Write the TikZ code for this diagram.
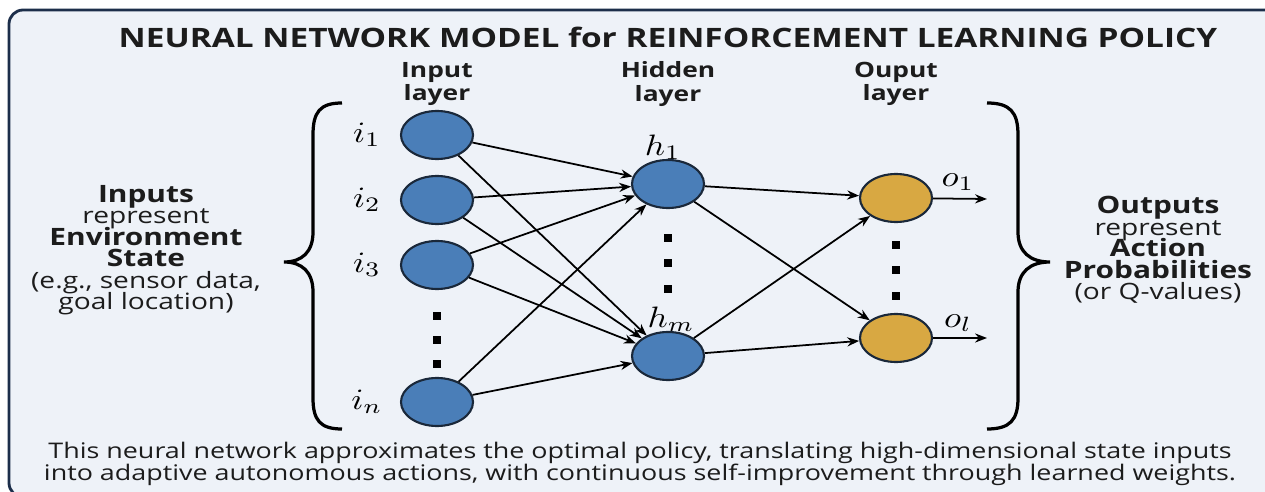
\documentclass[tikz,border=0pt]{standalone}
\usepackage{graphicx}
\usepackage{fontspec}
\setmainfont{Open Sans}
\newfontfamily\widesans[FakeStretch=1.25]{Open Sans}
\usetikzlibrary{shapes.geometric,arrows.meta}
\definecolor{frameblue}{RGB}{28,46,74}
\definecolor{paper}{RGB}{238,242,248}
\definecolor{neuronblue}{RGB}{74,126,184}
\definecolor{neurongold}{RGB}{216,168,66}
\definecolor{rimdark}{RGB}{26,40,58}
\definecolor{inkgray}{RGB}{28,28,28}
\newcommand{\wlab}[1]{\scalebox{2.5}[2.1]{$#1$}}
\newcommand{\bw}[1]{{\bfseries\fontsize{17}{15.3}\selectfont #1}}
\newcommand{\sidefont}{\widesans\fontsize{16}{15.3}\selectfont\lineskiplimit-8pt\relax}

\begin{document}
\begin{tikzpicture}[x=0.025cm,y=-0.025cm,
  neuron/.style={ellipse,draw=rimdark,line width=1.5pt,minimum width=1.8cm,minimum height=1.2cm,inner sep=0pt},
  hid/.style={neuron,fill=neuronblue},
  outn/.style={neuron,fill=neurongold},
  wire/.style={-{Stealth[length=8.5pt,width=6.5pt]},line width=1.25pt},
  vdot/.style={fill=black,minimum size=5.5pt,inner sep=0pt},
  mlab/.style={font=\normalsize},
  layerlab/.style={align=center,text=inkgray,font=\widesans\bfseries\fontsize{15}{16.5}\selectfont},
  sidetxt/.style={align=center,text=inkgray,font=\sidefont}
]
  \def\xin{437};
  \def\xhid{668};
  \def\xout{896};
  \useasboundingbox (0,0) rectangle (1265,492);
  \fill[white] (0,0) rectangle (1265,492);
  \draw[frameblue,fill=paper,line width=2pt,rounded corners=10pt] (9,10) rectangle (1285,497);
  % title and layer names
  \node[text=inkgray,font=\widesans\bfseries\fontsize{19}{22}\selectfont] (title) at (668,37) {NEURAL NETWORK MODEL for REINFORCEMENT LEARNING POLICY};
  \node[layerlab] (labin) at (\xin,84) {Input\\layer};
  \node[layerlab] (labhid) at (\xhid,84) {Hidden\\layer};
  \node[layerlab] (labout) at (\xout,84) {Ouput\\layer};
  % neurons
  \node[hid] (i1) at (\xin,135) {};
  \node[hid] (i2) at (\xin,200) {};
  \node[hid] (i3) at (\xin,265) {};
  \node[hid] (in) at (\xin,402) {};
  \node[hid] (h1) at (\xhid,184) {};
  \node[hid] (hm) at (\xhid,356) {};
  \node[outn] (o1) at (\xout,198) {};
  \node[outn] (ol) at (\xout,338) {};
  \node[mlab] (ti1) at (367,135) {\wlab{i_1}};
  \node[mlab] (ti2) at (367,200) {\wlab{i_2}};
  \node[mlab] (ti3) at (367,265) {\wlab{i_3}};
  \node[mlab] (tin) at (367,402) {\wlab{i_n}};
  \node[mlab] (th1) at (663,147) {\wlab{h_1}};
  \node[mlab] (thm) at (671,319) {\wlab{h_m}};
  \node[mlab] (to1) at (958,182) {\wlab{o_1}};
  \node[mlab] (tol) at (958,323) {\wlab{o_l}};
  % vertical dots
  \node[vdot] (di1) at (\xin,316) {};
  \node[vdot] (di2) at (\xin,340) {};
  \node[vdot] (di3) at (\xin,364) {};
  \node[vdot] (dh1) at (\xhid,238) {};
  \node[vdot] (dh2) at (\xhid,263) {};
  \node[vdot] (dh3) at (\xhid,289) {};
  \node[vdot] (do1) at (\xout,245) {};
  \node[vdot] (do2) at (\xout,270) {};
  \node[vdot] (do3) at (\xout,296) {};
  % weights
  \draw[wire] (i1)--(h1);
  \draw[wire] (i1)--(hm);
  \draw[wire] (i2)--(h1);
  \draw[wire] (i2)--(hm);
  \draw[wire] (i3)--(h1);
  \draw[wire] (i3)--(hm);
  \draw[wire] (in)--(h1);
  \draw[wire] (in)--(hm);
  \draw[wire] (h1)--(o1);
  \draw[wire] (h1)--(ol);
  \draw[wire] (hm)--(o1);
  \draw[wire] (hm)--(ol);
  \coordinate (o1end) at (987,199);
  \coordinate (olend) at (987,338);
  \draw[wire] (o1)--(o1end);
  \draw[wire] (ol)--(olend);
  % braces
  \draw[line width=2.3pt] (342,103) .. controls (320,103) and (313,112) .. (313,135) -- (313,232) .. controls (313,252) and (302,262) .. (284,262) .. controls (302,262) and (313,272) .. (313,292) -- (313,398) .. controls (313,420) and (320,429) .. (342,429);
  \draw[line width=2.3pt] (987,103) .. controls (1010,103) and (1018,112) .. (1018,135) -- (1018,232) .. controls (1018,252) and (1030,262) .. (1050,262) .. controls (1030,262) and (1018,272) .. (1018,292) -- (1018,398) .. controls (1018,420) and (1010,429) .. (987,429);
  % side texts
  \node[sidetxt] (intxt) at (146,250) {\bw{Inputs}\\represent\\\bw{Environment}\\\bw{State}\\(e.g., sensor data,\\goal location)};
  \node[sidetxt] (outtxt) at (1158,250) {\bw{Outputs}\\represent\\\bw{Action}\\\bw{Probabilities}\\(or Q-values)};
  \node[align=center,text=inkgray,font=\widesans\fontsize{15.3}{15.6}\selectfont] (caption) at (640,464) {This neural network approximates the optimal policy, translating high-dimensional state inputs\\into adaptive autonomous actions, with continuous self-improvement through learned weights.};
\end{tikzpicture}
\end{document}
